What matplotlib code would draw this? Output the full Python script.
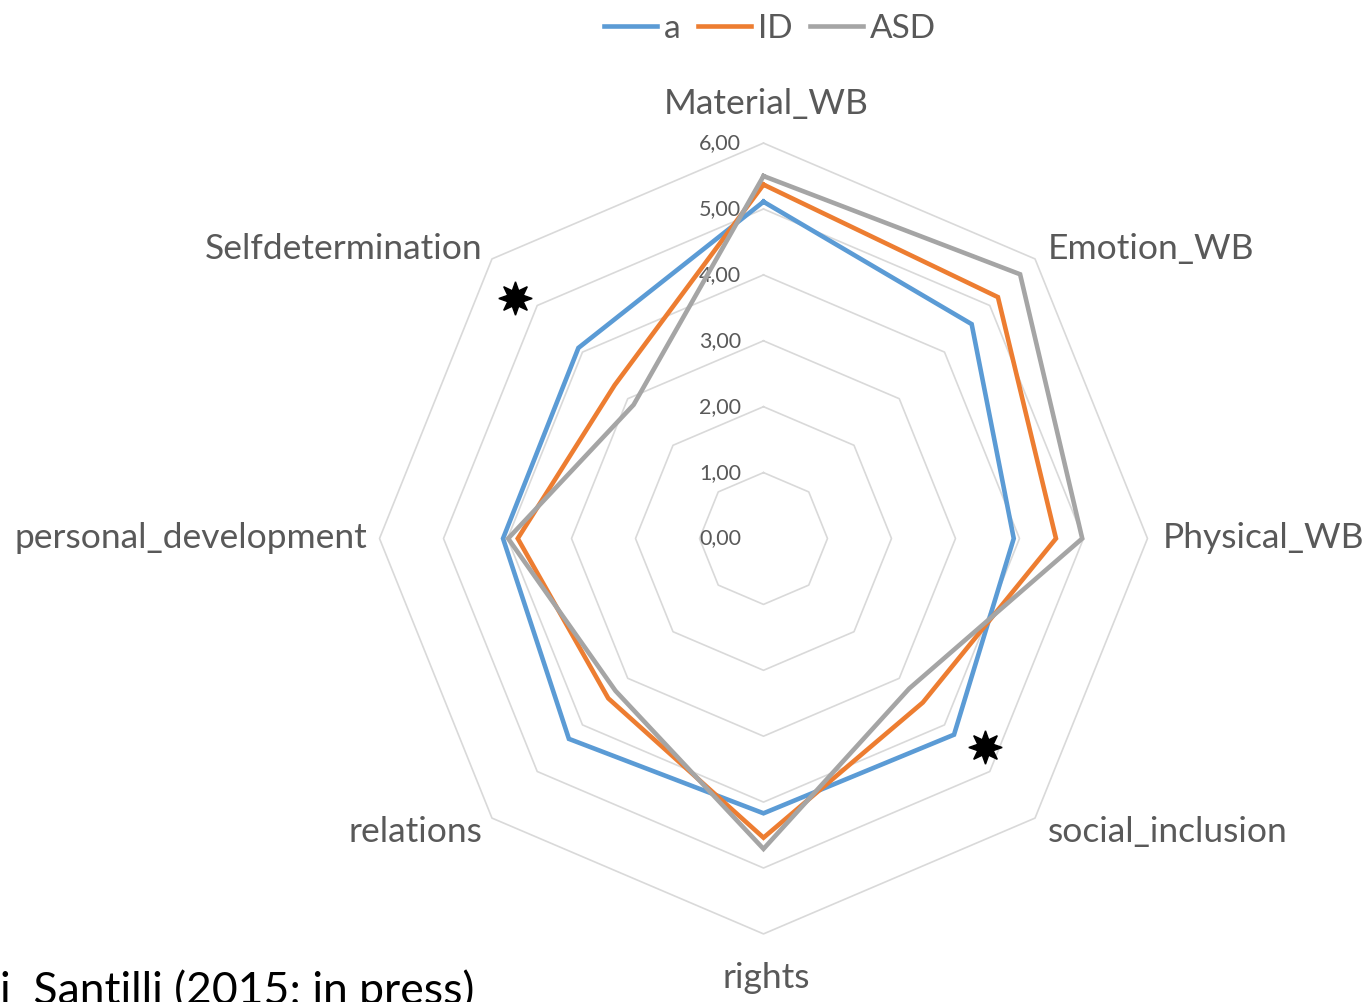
import numpy as np
import matplotlib.pyplot as plt

plt.rcParams['font.family'] = ['Lato', 'DejaVu Sans']

# data
categories = ['Material_WB', 'Emotion_WB', 'Physical_WB', 'social_inclusion',
              'rights', 'relations', 'personal_development', 'Selfdetermination']
a_vals = [5.11, 4.60, 3.91, 4.21, 4.17, 4.30, 4.07, 4.09]
id_vals = [5.37, 5.18, 4.57, 3.52, 4.54, 3.43, 3.84, 3.29]
asd_vals = [5.50, 5.67, 4.98, 3.22, 4.71, 3.27, 3.99, 2.87]
series_names = ['a', 'ID', 'ASD']
series_colors = ['#5B9BD5', '#ED7D31', '#A5A5A5']
ring_values = [0, 1, 2, 3, 4, 5, 6]
tick_labels = ['0,00', '1,00', '2,00', '3,00', '4,00', '5,00', '6,00']
# significance stars (angle in degrees clockwise from top, radius)
star_angles = [313.3, 132.4]
star_r = [5.33, 4.69]
source_text = 'i  Santilli (2015; in press)'

text_col = '#595959'
grid_col = '#D9D9D9'

n = len(categories)
theta = np.deg2rad(np.arange(n) * 360.0 / n)


def to_xy(r, ang):
    r = np.asarray(r, dtype=float)
    return r * np.sin(ang), r * np.cos(ang)


fig = plt.figure(figsize=(13.65, 10.02), dpi=100)
ax = fig.add_axes([0, 0, 1, 1])
# pixel centre of the plot and pixels per unit (x slightly squeezed like the original)
cx, cy, sx, sy = 763.5, 538.5, 64.0, 65.9
ax.set_xlim((0 - cx) / sx, (1365 - cx) / sx)
ax.set_ylim((cy - 1002) / sy, cy / sy)
ax.axis('off')

# octagonal grid
closed = np.append(theta, theta[0])
for rv in ring_values[1:]:
    gx, gy = to_xy(np.full(n + 1, rv), closed)
    ax.plot(gx, gy, color=grid_col, lw=1.2, zorder=1)

for rv, lab in zip(ring_values, tick_labels):
    ax.annotate(lab, xy=(0, rv), xytext=(-16, 0), textcoords='offset points',
                ha='right', va='center', fontsize=15.5, color=text_col, zorder=2)

# series
for vals, name, col in zip([a_vals, id_vals, asd_vals], series_names, series_colors):
    v = np.append(vals, vals[0])
    px, py = to_xy(v, closed)
    ax.plot(px, py, color=col, lw=3.3, label=name, solid_joinstyle='miter', zorder=3)

# category labels
offsets = [(2, 28, 'center'), (9, 7, 'left'), (11, 0, 'left'), (9, -10, 'left'),
           (2, -32, 'center'), (-7, -10, 'right'), (-9, 0, 'right'), (-7, 7, 'right')]
for cat, ang, (ox, oy, ha) in zip(categories, theta, offsets):
    lx, ly = to_xy(6, ang)
    ax.annotate(cat, xy=(lx, ly), xytext=(ox, oy), textcoords='offset points',
                ha=ha, va='center', fontsize=25.5, color=text_col)

# stars
sx_, sy_ = to_xy(star_r, np.deg2rad(star_angles))
ax.plot(sx_, sy_, ls='none', marker=(8, 1, 0), markersize=24, color='black', zorder=4)

ax.legend(loc='upper center', bbox_to_anchor=(770 / 1365, 1.006), ncol=3, frameon=False,
          fontsize=24, handlelength=1.6, handletextpad=0.22, columnspacing=0.5,
          labelcolor=text_col, borderaxespad=0.2)

fig.text(0.0, -0.002, source_text, ha='left', va='baseline', fontsize=32, color='black')

fig.savefig('out.png', dpi=100)
